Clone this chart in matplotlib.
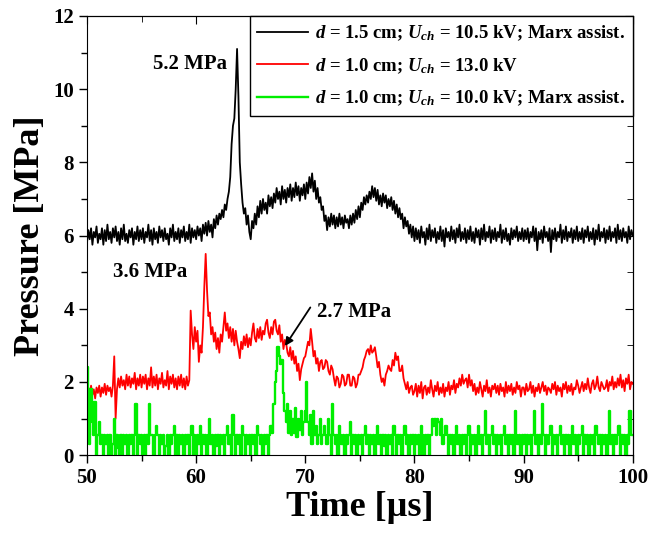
import matplotlib
matplotlib.use('Agg')
import matplotlib.pyplot as plt
from matplotlib.ticker import MultipleLocator
import numpy as np

plt.rcParams['font.family'] = 'Liberation Serif'
plt.rcParams['font.weight'] = 'bold'
plt.rcParams['axes.labelweight'] = 'bold'
plt.rcParams['mathtext.fontset'] = 'custom'
plt.rcParams['mathtext.rm'] = 'Liberation Serif:bold'
plt.rcParams['mathtext.it'] = 'Liberation Serif:italic:bold'
plt.rcParams['mathtext.bf'] = 'Liberation Serif:bold'

# samples every 0.125 us from 50 to 100 us, ten per row

# d = 1.5 cm, 10.5 kV, Marx assist.
p_black = [
    5.8, 6.15, 5.9, 6.2, 5.75, 6.1, 5.95, 6.25, 5.8, 6.05,
    5.9, 6.2, 5.75, 6.15, 5.85, 6.3, 5.9, 6.1, 5.8, 6.2,
    5.95, 6.25, 5.85, 6.1, 5.75, 6.2, 5.9, 6.3, 5.85, 6.05,
    5.8, 6.15, 5.95, 6.2, 5.75, 6.1, 5.9, 6.25, 5.85, 6.15,
    5.9, 6.2, 5.8, 6.1, 5.95, 6.3, 5.85, 6.15, 5.75, 6.2,
    5.9, 6.1, 5.8, 6.25, 5.95, 6.15, 5.85, 6.2, 5.9, 6.05,
    5.75, 6.2, 5.95, 6.3, 5.85, 6.1, 5.9, 6.2, 5.8, 6.15,
    5.95, 6.25, 5.85, 6.1, 5.9, 6.3, 5.8, 6.2, 5.95, 6.15,
    5.9, 6.25, 6.0, 6.2, 5.85, 6.3, 6.05, 6.35, 6.0, 6.4,
    6.1, 6.3, 5.95, 6.45, 6.2, 6.55, 6.3, 6.6, 6.45, 6.7,
    6.5, 6.85, 6.7, 7.0, 7.2, 7.6, 8.5, 9.0, 9.2, 10.0,
    11.1, 9.8, 8.0, 7.4, 6.9, 6.6, 6.75, 6.3, 6.55, 6.1,
    5.9, 6.4, 6.2, 6.6, 6.3, 6.8, 6.5, 6.95, 6.6, 7.0,
    6.7, 6.9, 6.6, 7.1, 6.8, 7.05, 6.75, 7.15, 6.9, 7.3,
    7.0, 7.2, 6.85, 7.35, 7.0, 7.25, 6.9, 7.3, 7.05, 7.4,
    6.95, 7.3, 7.05, 7.45, 7.1, 7.35, 6.95, 7.3, 7.1, 7.4,
    7.0, 7.45, 7.15, 7.6, 7.3, 7.7, 7.2, 7.5, 7.0, 7.3,
    6.9, 7.05, 6.7, 6.8, 6.4, 6.55, 6.15, 6.5, 6.25, 6.6,
    6.3, 6.55, 6.2, 6.5, 6.25, 6.6, 6.3, 6.5, 6.2, 6.55,
    6.35, 6.45, 6.2, 6.55, 6.3, 6.6, 6.35, 6.7, 6.45, 6.8,
    6.5, 6.9, 6.7, 7.05, 6.85, 7.1, 6.9, 7.2, 7.0, 7.35,
    7.05, 7.3, 6.95, 7.25, 6.85, 7.1, 6.8, 7.15, 6.9, 7.1,
    6.75, 7.0, 6.8, 7.05, 6.7, 6.95, 6.6, 6.85, 6.5, 6.75,
    6.45, 6.6, 6.2, 6.5, 6.25, 6.4, 6.05, 6.3, 5.95, 6.25,
    5.85, 6.2, 5.9, 6.15, 5.8, 6.25, 5.95, 6.1, 5.75, 6.2,
    5.9, 6.3, 5.85, 6.15, 5.95, 6.2, 5.8, 6.1, 5.9, 6.25,
    5.85, 6.15, 5.7, 6.2, 5.95, 6.1, 5.85, 6.25, 5.9, 6.15,
    5.8, 6.2, 5.95, 6.3, 5.85, 6.1, 5.9, 6.2, 5.8, 6.15,
    5.9, 6.25, 5.85, 6.1, 5.8, 6.2, 5.95, 6.15, 5.75, 6.2,
    5.9, 6.3, 5.85, 6.1, 5.95, 6.25, 5.8, 6.15, 5.9, 6.2,
    5.85, 6.1, 5.95, 6.3, 5.8, 6.15, 5.9, 6.2, 5.85, 6.05,
    5.75, 6.2, 5.9, 6.15, 5.95, 6.25, 5.85, 6.1, 5.9, 6.2,
    5.85, 6.15, 5.9, 6.2, 5.8, 6.1, 5.95, 6.25, 5.85, 6.2,
    5.6, 6.1, 5.9, 6.15, 5.8, 6.25, 5.95, 6.1, 5.85, 6.2,
    5.55, 6.15, 5.9, 6.2, 5.85, 6.1, 5.95, 6.3, 5.8, 6.15,
    5.9, 6.25, 5.85, 6.1, 5.95, 6.2, 5.8, 6.15, 5.9, 6.25,
    5.85, 6.1, 5.9, 6.2, 5.8, 6.15, 5.95, 6.25, 5.85, 6.1,
    5.9, 6.2, 5.75, 6.15, 5.9, 6.3, 5.85, 6.1, 5.95, 6.2,
    5.8, 6.15, 5.9, 6.25, 5.85, 6.1, 5.95, 6.2, 5.8, 6.3,
    5.9, 6.15, 5.85, 6.2, 5.95, 6.1, 5.8, 6.25, 5.9, 6.15,
    6.0,
]

# d = 1.0 cm, 13.0 kV
p_red = [
    1.5, 1.85, 1.6, 1.9, 1.65, 1.8, 1.55, 1.85, 1.7, 1.9,
    1.6, 1.85, 1.7, 1.95, 1.65, 1.9, 1.75, 1.85, 1.6, 1.9,
    2.7, 1.0, 1.8, 2.1, 1.85, 2.15, 1.9, 2.05, 1.8, 2.2,
    1.9, 2.15, 1.85, 2.1, 1.95, 2.25, 1.8, 2.1, 1.9, 2.2,
    1.85, 2.15, 1.95, 2.2, 1.8, 2.1, 1.9, 2.4, 1.85, 2.15,
    1.9, 2.2, 1.8, 2.1, 1.95, 2.25, 1.85, 2.05, 1.9, 2.3,
    1.8, 2.15, 1.95, 2.2, 1.85, 2.1, 1.8, 2.15, 1.9, 2.2,
    1.85, 2.1, 1.8, 2.15, 1.9, 2.05, 3.95, 3.3, 2.9, 3.5,
    3.1, 3.4, 2.55, 3.0, 2.8, 3.5, 4.6, 5.5, 4.5, 3.8,
    3.9, 3.3, 3.5, 3.1, 3.35, 2.9, 3.2, 2.8, 3.3, 3.1,
    3.5, 3.9, 3.4, 3.6, 3.2, 3.5, 3.1, 3.45, 3.0, 3.4,
    3.1, 2.9, 2.65, 3.1, 2.9, 3.25, 3.0, 3.3, 2.95, 3.2,
    3.0, 3.35, 3.6, 3.2, 3.1, 3.45, 3.2, 3.5, 3.15, 3.4,
    3.3, 3.6, 3.7, 3.35, 3.2, 3.5, 3.3, 3.65, 3.7, 3.4,
    3.3, 3.55, 3.1, 3.3, 2.9, 3.15, 3.05, 2.8, 2.7, 2.95,
    2.6, 2.85, 2.5, 2.7, 2.3, 2.5, 2.05, 2.35, 2.5, 2.65,
    2.7, 2.9, 3.1, 3.0, 3.45, 3.1, 2.7, 2.85, 2.5, 2.65,
    2.3, 2.55, 2.6, 2.35, 2.4, 2.6, 2.55, 2.3, 2.2, 2.45,
    2.35, 2.1, 1.9, 2.15, 2.1, 1.85, 1.95, 2.2, 2.15, 1.9,
    1.95, 2.2, 2.2, 1.9, 1.9, 2.15, 2.1, 1.85, 1.95, 2.2,
    2.2, 2.3, 2.4, 2.6, 2.7, 2.85, 2.9, 2.75, 3.0, 2.8,
    2.85, 2.95, 2.7, 2.4, 2.55, 2.2, 2.0, 2.1, 1.9, 2.2,
    2.3, 2.45, 2.35, 2.3, 2.6, 2.45, 2.8, 2.6, 2.7, 2.3,
    2.3, 2.45, 2.1, 1.95, 1.8, 2.0, 1.7, 1.85, 1.9, 1.65,
    1.75, 1.95, 1.6, 1.9, 1.7, 2.0, 1.55, 1.85, 1.9, 1.65,
    1.85, 1.7, 2.05, 1.8, 1.6, 1.9, 1.75, 2.0, 1.65, 1.85,
    1.7, 1.95, 1.6, 1.85, 1.75, 2.0, 1.65, 1.9, 1.8, 2.05,
    1.7, 1.95, 1.85, 2.1, 1.9, 2.2, 1.95, 2.05, 2.1, 1.85,
    2.2, 1.9, 2.05, 1.75, 1.95, 1.65, 1.85, 1.7, 2.0, 1.8,
    1.6, 1.9, 1.75, 2.05, 1.7, 1.85, 1.6, 1.9, 1.8, 1.95,
    1.7, 1.9, 1.65, 1.95, 1.75, 1.85, 1.6, 2.0, 1.7, 1.9,
    1.75, 1.95, 1.65, 1.85, 1.7, 2.0, 1.8, 1.9, 1.6, 1.85,
    1.85, 1.65, 1.95, 1.75, 1.8, 2.0, 1.7, 1.9, 1.6, 1.85,
    1.75, 1.95, 1.7, 1.85, 2.0, 1.75, 1.9, 1.65, 1.85, 1.8,
    1.7, 1.95, 1.8, 2.0, 1.65, 1.9, 1.75, 1.85, 1.6, 1.95,
    1.8, 2.0, 1.7, 1.9, 1.75, 1.95, 1.65, 1.85, 1.8, 2.05,
    1.9, 1.7, 1.85, 2.0, 1.75, 1.95, 1.8, 2.1, 1.85, 1.7,
    1.95, 2.05, 1.8, 1.9, 2.15, 1.85, 1.75, 2.0, 1.9, 1.8,
    1.85, 2.05, 1.75, 2.0, 1.9, 2.15, 1.8, 2.0, 1.85, 2.1,
    1.9, 2.2, 1.85, 2.05, 1.75, 2.1, 1.95, 2.2, 1.8, 2.0,
    1.95,
]

# d = 1.0 cm, 10.0 kV, Marx assist.
p_green = [
    2.4, 1.5, 0.3, 1.8, 0.9, 0.55, 1.45, 0.0, 0.55, 0.9,
    0.3, 0.55, 0.0, 0.55, 0.3, 0.55, 0.0, 0.55, 0.0, 0.3,
    1.0, 0.0, 0.55, 0.2, 0.0, 0.55, 0.0, 0.55, 0.3, 0.55,
    0.0, 0.55, 0.3, 0.55, 0.0, 0.55, 1.4, 0.0, 0.55, 0.3,
    0.55, 0.0, 0.55, 0.0, 0.55, 0.3, 1.4, 0.55, 0.55, 0.0,
    0.55, 0.8, 0.55, 0.0, 0.55, 0.3, 0.55, 0.0, 0.25, 0.55,
    0.0, 0.55, 0.3, 0.55, 0.8, 0.0, 0.55, 0.0, 0.55, 0.3,
    0.55, 0.0, 0.55, 0.3, 0.55, 0.0, 0.55, 0.8, 0.0, 0.55,
    0.0, 0.55, 0.3, 0.8, 0.0, 0.55, 0.3, 0.55, 0.0, 0.55,
    1.0, 0.3, 0.55, 0.0, 0.55, 0.25, 0.55, 0.0, 0.55, 0.3,
    0.55, 0.0, 0.55, 0.8, 0.3, 0.55, 0.0, 1.1, 0.55, 0.0,
    0.55, 0.3, 0.55, 0.0, 0.8, 0.55, 0.0, 0.55, 0.3, 0.55,
    0.0, 0.55, 0.3, 0.55, 0.0, 0.8, 0.55, 0.3, 0.55, 0.0,
    0.55, 0.3, 0.55, 0.0, 0.55, 0.8, 0.6, 1.4, 2.0, 2.3,
    2.95, 2.7, 2.5, 2.6, 1.7, 1.2, 0.9, 1.4, 0.6, 1.2,
    0.55, 1.0, 0.6, 1.3, 0.5, 1.0, 0.7, 1.2, 0.55, 0.9,
    1.2, 2.0, 0.9, 0.55, 1.1, 0.3, 1.2, 0.55, 0.8, 0.3,
    0.55, 1.0, 0.3, 0.55, 0.8, 0.55, 0.3, 1.0, 0.55, 0.0,
    1.4, 0.55, 0.3, 0.55, 0.0, 0.8, 0.55, 0.3, 0.55, 0.0,
    0.55, 0.3, 0.55, 0.9, 0.0, 0.55, 0.3, 0.55, 0.0, 0.55,
    0.3, 0.55, 0.0, 0.55, 0.8, 0.3, 0.55, 0.0, 0.55, 0.3,
    0.55, 0.0, 0.55, 0.8, 0.3, 0.55, 0.0, 0.55, 0.25, 0.55,
    0.0, 0.55, 0.3, 0.55, 0.0, 0.8, 0.55, 0.0, 0.55, 0.3,
    0.55, 0.0, 0.55, 0.8, 0.3, 0.55, 0.0, 0.55, 0.3, 0.55,
    0.0, 0.55, 0.3, 0.55, 0.0, 0.8, 0.55, 0.0, 0.55, 0.3,
    0.55, 0.0, 0.55, 1.0, 0.8, 1.0, 0.55, 1.0, 0.9, 0.55,
    1.0, 0.3, 0.55, 0.8, 0.55, 0.0, 0.55, 0.3, 0.55, 0.0,
    0.55, 0.8, 0.3, 0.55, 0.0, 0.55, 0.3, 0.55, 0.0, 0.55,
    0.8, 0.0, 0.55, 0.3, 0.55, 0.0, 0.55, 0.8, 0.3, 0.55,
    0.0, 0.55, 1.2, 0.3, 0.55, 0.0, 0.55, 0.8, 0.3, 0.55,
    0.0, 0.55, 0.3, 0.55, 0.0, 0.55, 0.8, 0.3, 0.55, 0.0,
    0.55, 0.3, 0.55, 0.0, 1.2, 0.55, 0.3, 0.55, 0.0, 0.55,
    0.3, 0.55, 0.0, 0.55, 0.3, 0.55, 0.0, 0.55, 1.2, 0.3,
    0.55, 0.0, 0.55, 0.3, 1.4, 0.55, 0.0, 0.55, 0.3, 0.55,
    0.8, 0.0, 0.55, 0.3, 0.55, 0.0, 0.55, 0.8, 0.3, 0.55,
    0.0, 0.55, 0.3, 0.55, 0.0, 0.55, 0.8, 0.3, 0.55, 0.0,
    0.55, 0.3, 0.55, 0.8, 0.0, 0.55, 0.3, 0.55, 0.0, 0.55,
    0.3, 0.55, 0.0, 0.8, 0.55, 0.3, 0.55, 0.0, 0.55, 0.3,
    0.55, 0.0, 0.55, 1.2, 0.3, 0.55, 0.0, 0.55, 0.3, 0.55,
    0.8, 0.0, 0.55, 0.3, 0.55, 0.0, 0.55, 0.3, 1.2, 0.55,
    0.55,
]

assert len(p_black) == len(p_red) == len(p_green) == 401
t = 50 + 0.125 * np.arange(401)

labels = [
    r'$d$ = 1.5 cm; $U_{ch}$ = 10.5 kV; Marx assist.',
    r'$d$ = 1.0 cm; $U_{ch}$ = 13.0 kV',
    r'$d$ = 1.0 cm; $U_{ch}$ = 10.0 kV; Marx assist.',
]

fig = plt.figure(figsize=(6.49, 5.33), dpi=100)
ax = fig.add_axes([0.134, 0.146, 0.841, 0.824])

ax.plot(t, p_black, color='black', lw=1.3, label=labels[0])
ax.plot(t, p_red, color='#ff0000', lw=1.3, label=labels[1])
ax.plot(t, p_green, color='#00ee00', lw=1.7, drawstyle='steps-mid', label=labels[2])

ax.set_xlim(50, 100)
ax.set_ylim(0, 12)
ax.xaxis.set_major_locator(MultipleLocator(10))
ax.xaxis.set_minor_locator(MultipleLocator(5))
ax.yaxis.set_major_locator(MultipleLocator(2))
ax.yaxis.set_minor_locator(MultipleLocator(1))
ax.tick_params(which='both', direction='out', labelsize=15, width=1)
ax.tick_params(which='major', length=6)
ax.tick_params(which='minor', length=4)
for lab in ax.get_xticklabels() + ax.get_yticklabels():
    lab.set_fontweight('bold')

# mirrored ticks on top and right, pointing inwards
top = ax.secondary_xaxis('top')
top.xaxis.set_major_locator(MultipleLocator(10))
top.xaxis.set_minor_locator(MultipleLocator(5))
top.tick_params(which='both', direction='in', labeltop=False)
top.tick_params(which='major', length=6)
top.tick_params(which='minor', length=4)
right = ax.secondary_yaxis('right')
right.yaxis.set_major_locator(MultipleLocator(2))
right.yaxis.set_minor_locator(MultipleLocator(1))
right.tick_params(which='both', direction='in', labelright=False)
right.tick_params(which='major', length=6)
right.tick_params(which='minor', length=4)

ax.set_xlabel('Time [µs]', fontsize=26, fontweight='bold', labelpad=2)
ax.set_ylabel('Pressure [MPa]', fontsize=26, fontweight='bold', labelpad=4)

ax.text(59.4, 10.7, '5.2 MPa', fontsize=15, fontweight='bold', ha='center', va='center')
ax.text(55.8, 5.0, '3.6 MPa', fontsize=15, fontweight='bold', ha='center', va='center')
ax.text(71.1, 3.9, '2.7 MPa', fontsize=15, fontweight='bold', ha='left', va='center')
ax.annotate('', xy=(68.0, 2.92), xytext=(70.6, 4.1),
            arrowprops=dict(arrowstyle='-|>', color='black', lw=1.3, mutation_scale=12))

leg = ax.legend(loc='upper right', borderaxespad=0, fontsize=13.5, fancybox=False,
                edgecolor='black', framealpha=1, handlelength=2.7, handletextpad=0.4,
                labelspacing=0.7, borderpad=0.4)
leg.get_frame().set_linewidth(1)
for txt in leg.get_texts():
    txt.set_fontweight('bold')

fig.savefig('out.png', dpi=100)
